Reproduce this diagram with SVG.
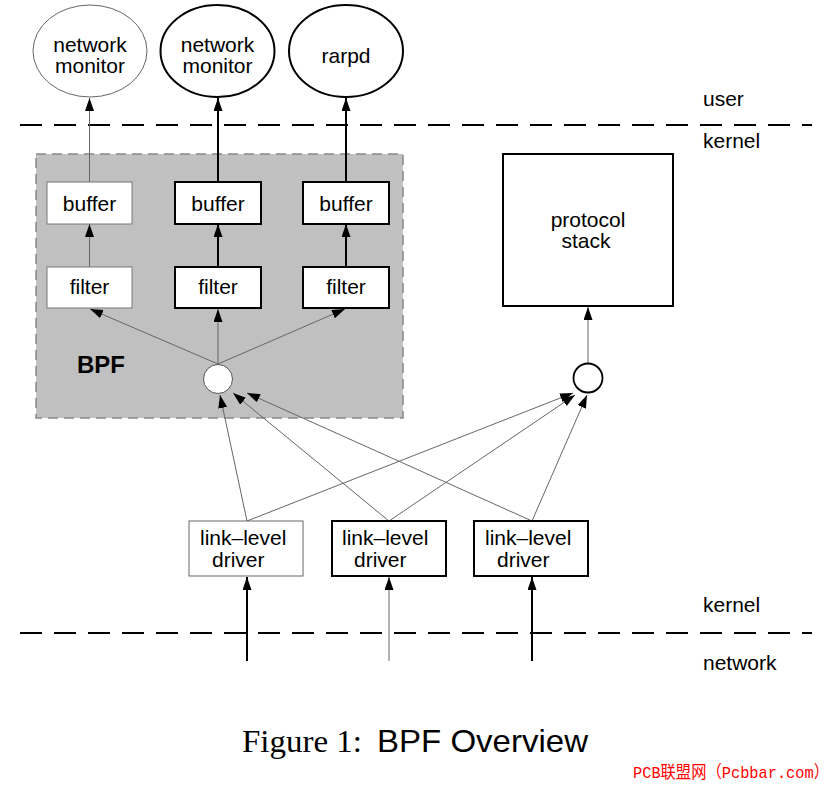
<svg xmlns="http://www.w3.org/2000/svg" width="836" height="786" viewBox="0 0 836 786">
<style>
text{font-family:"Liberation Sans",Arial,sans-serif;font-size:21px;fill:#000}
.thin{stroke:#666;stroke-width:1;fill:none}
.thick{stroke:#000;stroke-width:2;fill:none}
.box{fill:#fff}
.dash{stroke:#000;stroke-width:2;stroke-dasharray:22 12;fill:none}
</style>
<defs>
<marker id="ah" markerUnits="userSpaceOnUse" markerWidth="14" markerHeight="10" refX="13" refY="4.5" orient="auto">
<path d="M0,0 L13,4.5 L0,9 z" fill="#000"/>
</marker>
</defs>
<rect width="836" height="786" fill="#fff"/>
<g id="layers">
<line class="dash" x1="20" y1="125" x2="812" y2="125"/>
<line class="dash" x1="20" y1="633" x2="812" y2="633"/>
<text x="703" y="106">user</text>
<text x="703" y="148">kernel</text>
<text x="703" y="612">kernel</text>
<text x="703" y="670">network</text>
</g>
<g id="bpf">
<rect x="36" y="154" width="367" height="264" fill="#c0c0c0" stroke="#888" stroke-width="1.5" stroke-dasharray="10 6"/>
<text x="77" y="373" style="font-weight:bold;font-size:24px">BPF</text>
</g>
<g id="connectors">
<line class="thin" x1="89.5" y1="182" x2="89.5" y2="98" marker-end="url(#ah)"/>
<line class="thick" x1="218" y1="182" x2="218" y2="98" marker-end="url(#ah)"/>
<line class="thick" x1="346" y1="182" x2="346" y2="98" marker-end="url(#ah)"/>
<line class="thin" x1="89.5" y1="267" x2="89.5" y2="224" marker-end="url(#ah)"/>
<line class="thick" x1="218" y1="267" x2="218" y2="224" marker-end="url(#ah)"/>
<line class="thick" x1="346" y1="267" x2="346" y2="224" marker-end="url(#ah)"/>
<line class="thin" x1="218" y1="364" x2="90" y2="309" marker-end="url(#ah)"/>
<line class="thin" x1="218" y1="364" x2="218" y2="309" marker-end="url(#ah)"/>
<line class="thin" x1="218" y1="364" x2="345" y2="309" marker-end="url(#ah)"/>
<line class="thin" x1="588" y1="363" x2="588" y2="307" marker-end="url(#ah)"/>
<line class="thin" x1="247" y1="521" x2="220" y2="395" marker-end="url(#ah)"/>
<line class="thin" x1="247" y1="521" x2="573" y2="393" marker-end="url(#ah)"/>
<line class="thin" x1="389" y1="521" x2="233" y2="393" marker-end="url(#ah)"/>
<line class="thin" x1="389" y1="521" x2="575" y2="395" marker-end="url(#ah)"/>
<line class="thin" x1="532" y1="521" x2="247" y2="393" marker-end="url(#ah)"/>
<line class="thin" x1="532" y1="521" x2="587" y2="395" marker-end="url(#ah)"/>
<line class="thick" x1="247" y1="661" x2="247" y2="577" marker-end="url(#ah)"/>
<line class="thin" x1="389" y1="661" x2="389" y2="577" marker-end="url(#ah)"/>
<line class="thick" x1="532" y1="661" x2="532" y2="577" marker-end="url(#ah)"/>
</g>
<g id="monitor1">
<ellipse cx="90" cy="51" rx="57" ry="46" fill="#fff" stroke="#666" stroke-width="1"/>
<text x="90" y="52" text-anchor="middle">network</text>
<text x="90" y="73" text-anchor="middle">monitor</text>
</g>
<g id="monitor2">
<ellipse cx="217.5" cy="51" rx="57" ry="46" fill="#fff" stroke="#000" stroke-width="2"/>
<text x="217.5" y="52" text-anchor="middle">network</text>
<text x="217.5" y="73" text-anchor="middle">monitor</text>
</g>
<g id="rarpd">
<ellipse cx="346" cy="51" rx="57" ry="46" fill="#fff" stroke="#000" stroke-width="2"/>
<text x="346" y="63" text-anchor="middle">rarpd</text>
</g>
<g id="buffer1"><rect x="47" y="182" width="85" height="42" class="box" stroke="#777" stroke-width="1"/><text x="89.5" y="211" text-anchor="middle">buffer</text></g>
<g id="buffer2"><rect x="175" y="182" width="86" height="42" class="box" stroke="#000" stroke-width="2"/><text x="218" y="211" text-anchor="middle">buffer</text></g>
<g id="buffer3"><rect x="303" y="182" width="86" height="42" class="box" stroke="#000" stroke-width="2"/><text x="346" y="211" text-anchor="middle">buffer</text></g>
<g id="filter1"><rect x="47" y="267" width="85" height="41" class="box" stroke="#777" stroke-width="1"/><text x="89.5" y="294" text-anchor="middle">filter</text></g>
<g id="filter2"><rect x="175" y="267" width="86" height="41" class="box" stroke="#000" stroke-width="2"/><text x="218" y="294" text-anchor="middle">filter</text></g>
<g id="filter3"><rect x="303" y="267" width="86" height="41" class="box" stroke="#000" stroke-width="2"/><text x="346" y="294" text-anchor="middle">filter</text></g>
<g id="bpftap"><circle cx="218" cy="379" r="14.5" fill="#fff" stroke="#555" stroke-width="1"/></g>
<g id="tap2"><circle cx="588" cy="378" r="14.5" fill="#fff" stroke="#000" stroke-width="1.8"/></g>
<g id="protocolstack"><rect x="503" y="154" width="170" height="152" fill="#fff" stroke="#000" stroke-width="2"/><text x="588" y="227" text-anchor="middle">protocol</text><text x="586" y="248" text-anchor="middle">stack</text></g>
<g id="driver1"><rect x="189" y="521" width="114" height="55" fill="#fff" stroke="#666" stroke-width="1"/><text x="200" y="545">link–level</text><text x="212" y="567">driver</text></g>
<g id="driver2"><rect x="332" y="521" width="114" height="55" fill="#fff" stroke="#000" stroke-width="2"/><text x="342" y="545">link–level</text><text x="354" y="567">driver</text></g>
<g id="driver3"><rect x="474" y="521" width="114" height="55" fill="#fff" stroke="#000" stroke-width="2"/><text x="485" y="545">link–level</text><text x="497" y="567">driver</text></g>
<g id="caption">
<text x="242" y="752" textLength="120" lengthAdjust="spacingAndGlyphs" style="font-family:'Liberation Serif','Times New Roman',serif;font-size:32px">Figure 1:</text>
<text x="377" y="752" textLength="211" lengthAdjust="spacingAndGlyphs" style="font-size:32px">BPF Overview</text>
<text x="633" y="778" textLength="196" lengthAdjust="spacingAndGlyphs" style="font-family:'Liberation Mono','Noto Sans CJK SC',monospace;font-size:17px;fill:#f00">PCB联盟网（Pcbbar.com）</text>
</g>
</svg>
